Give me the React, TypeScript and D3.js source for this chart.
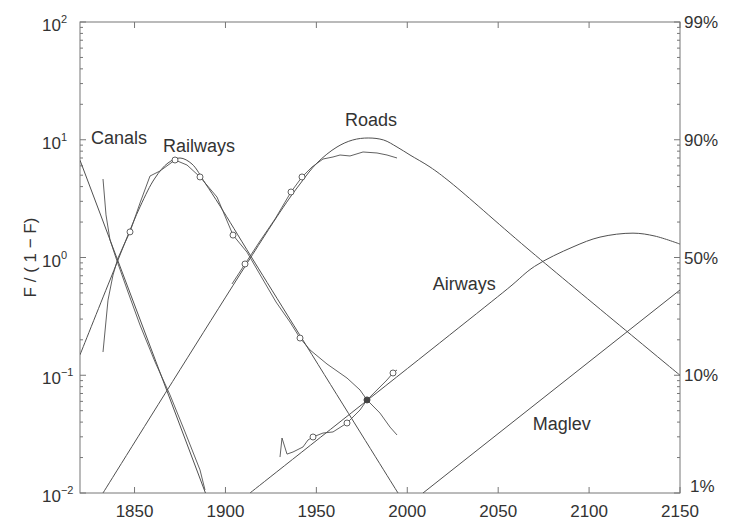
import React from "react";
import * as d3 from "d3";

const W = 729;
const H = 521;
const M = { left: 80, right: 49, top: 22, bottom: 28 };

const xDomain: [number, number] = [1820, 2150];
const yDomain: [number, number] = [0.01, 100];
const xTicks = [1850, 1900, 1950, 2000, 2050, 2100, 2150];
const yDecades = [-2, -1, 0, 1, 2];
const rightLabels = ["1%", "10%", "50%", "90%", "99%"];
const yLabel = "F / ( 1 \u2212 F)";

// fitted substitution curves [year, F/(1-F)]
const canalsFit = [[1820, 6.7], [1889, 0.01]];
const railwaysFit = [
  [1820, 0.149], [1836.5, 0.644], [1853, 2.69], [1861.25, 4.73], [1868.4, 6.35],
  [1875, 7.0], [1881.6, 6.22], [1888.75, 4.3], [1897, 2.74], [1914.6, 0.99], [1994.9, 0.01],
];
const roadsFit = [
  [1832.65, 0.01], [1930, 2.43], [1941, 4.21], [1950.35, 6.35], [1961.35, 8.68],
  [1970, 9.95], [1978.5, 10.35], [1987, 9.95], [1994.35, 8.68], [2001.5, 7.42],
  [2012.5, 5.87], [2023.5, 4.38], [2065.85, 1.2], [2150, 0.1],
];
const airwaysFit = [
  [1913.5, 0.01], [2055, 0.54], [2070, 0.84], [2091.15, 1.23], [2106, 1.49],
  [2124.15, 1.61], [2136.25, 1.52], [2150, 1.3],
];
const maglevFit = [[2008.65, 0.01], [2150, 0.53]];

// observed data [year, F/(1-F)]
const canalsData = [
  [1832.65, 4.64], [1834.3, 2.3], [1836.5, 1.41], [1839.8, 0.99], [1846.4, 0.509],
  [1853, 0.267], [1861.25, 0.13], [1869.5, 0.068], [1877.75, 0.033], [1886, 0.0157],
  [1888.75, 0.0106],
];
const railwaysData = [
  [1832.65, 0.1575], [1835.4, 0.435], [1838.15, 0.71], [1840.9, 0.99], [1843.65, 1.23],
  [1847.5, 1.65], [1853, 2.9], [1858.5, 4.92], [1864, 5.43], [1872.25, 6.73],
  [1878.85, 6.1], [1886, 4.83], [1895.35, 3.26], [1904.15, 1.55], [1911.85, 1.11],
  [1920.1, 0.67], [1927.8, 0.419], [1935.5, 0.283], [1941, 0.207], [1946.5, 0.164],
  [1955.85, 0.1246], [1966.85, 0.0947], [1974, 0.075], [1977.85, 0.0617],
  [1985, 0.0477], [1990.5, 0.0363], [1994.35, 0.0311],
];
const roadsData = [
  [1903.6, 0.596], [1910.75, 0.881], [1919, 1.38], [1927.25, 2.12], [1936.05, 3.6],
  [1942.1, 4.83], [1947.6, 5.87], [1953.65, 6.86], [1959.15, 7.14], [1963, 7.42],
  [1968.5, 7.28], [1975.65, 7.87], [1983.35, 7.72], [1988.85, 7.42], [1994.35, 7.0],
];
const airwaysData = [
  [1930, 0.0202], [1931.1, 0.0293], [1933.85, 0.0214], [1937.15, 0.0223],
  [1942.65, 0.0246], [1945.4, 0.0282], [1948.15, 0.0299], [1953.65, 0.0323],
  [1959.15, 0.033], [1966.85, 0.0393], [1974, 0.0507], [1977.85, 0.0617],
  [1988.85, 0.0912], [1992.15, 0.1045], [1994.35, 0.1109],
];

const railwaysMarkers = [1847.5, 1872.25, 1886, 1904.15, 1941];
const roadsMarkers = [1910.75, 1936.05, 1942.1];
const airwaysMarkers = [1948.15, 1966.85, 1992.15];
const darkMarkers = [1977.85];

const seriesLabels = [
  { text: "Canals", year: 1826, value: 9.2 },
  { text: "Railways", year: 1865.7, value: 7.9 },
  { text: "Roads", year: 1965.75, value: 13.1 },
  { text: "Airways", year: 2014, value: 0.53 },
  { text: "Maglev", year: 2069, value: 0.0343 },
];

const FONT = "'Liberation Sans', Arial, Helvetica, sans-serif";
const LINE = "#505050";
const TEXT = "#333";
const AXIS = "#777";

export default function App() {
  const x = d3.scaleLinear().domain(xDomain).range([M.left, W - M.right]);
  const y = d3.scaleLog().domain(yDomain).range([H - M.bottom, M.top]);
  const x0 = M.left, x1 = W - M.right, y0 = H - M.bottom, y1 = M.top;

  const fitLine = d3
    .line<number[]>()
    .x((d) => x(d[0]))
    .y((d) => y(d[1]))
    .curve(d3.curveCatmullRom.alpha(0.5));
  const dataLine = d3.line<number[]>().x((d) => x(d[0])).y((d) => y(d[1]));

  const fits = [canalsFit, railwaysFit, roadsFit, airwaysFit, maglevFit];
  const datas = [canalsData, railwaysData, roadsData, airwaysData];

  const minor: number[] = [];
  for (let e = -2; e < 2; e++) for (let k = 2; k <= 9; k++) minor.push(k * Math.pow(10, e));

  const markerPts = (data: number[][], years: number[]) =>
    years.map((yr) => data.find((d) => d[0] === yr)).filter(Boolean) as number[][];

  return (
    <svg width={W} height={H} style={{ display: "block", position: "absolute", left: 0, top: 0, background: "#fff" }}>
      <defs>
        <clipPath id="plot">
          <rect x={x0} y={y1} width={x1 - x0} height={y0 - y1} />
        </clipPath>
      </defs>
      <rect width={W} height={H} fill="#fff" />
      <rect x={x0} y={y1} width={x1 - x0} height={y0 - y1} fill="none" stroke={AXIS} strokeWidth={1} />
      {xTicks.map((t) => (
        <g key={"xt" + t}>
          <line x1={x(t)} x2={x(t)} y1={y0} y2={y0 - 6} stroke={AXIS} />
          <line x1={x(t)} x2={x(t)} y1={y1} y2={y1 + 6} stroke={AXIS} />
          <text x={x(t)} y={y0 + 24} textAnchor="middle" fontFamily={FONT} fontSize={17} fill={TEXT}>
            {t}
          </text>
        </g>
      ))}
      {yDecades.map((e) => (
        <g key={"yt" + e}>
          <line x1={x0} x2={x0 + 6} y1={y(Math.pow(10, e))} y2={y(Math.pow(10, e))} stroke={AXIS} />
          <line x1={x1} x2={x1 - 6} y1={y(Math.pow(10, e))} y2={y(Math.pow(10, e))} stroke={AXIS} />
        </g>
      ))}
      {minor.map((v) => (
        <g key={"ym" + v}>
          <line x1={x0} x2={x0 + 3} y1={y(v)} y2={y(v)} stroke={AXIS} />
          <line x1={x1} x2={x1 - 3} y1={y(v)} y2={y(v)} stroke={AXIS} />
        </g>
      ))}
      {yDecades.map((e) => (
        <text key={"yl" + e} x={42} y={y(Math.pow(10, e)) + 9} fontFamily={FONT} fontSize={17} fill={TEXT}>
          10
          <tspan fontSize={11} dy={-8}>
            {e < 0 ? "\u2212" + Math.abs(e) : String(e)}
          </tspan>
        </text>
      ))}
      {yDecades.map((e, i) =>
        i === 0 ? (
          <text key={"yr" + e} x={690} y={y(Math.pow(10, e)) - 1} fontFamily={FONT} fontSize={17} fill={TEXT}>
            {rightLabels[i]}
          </text>
        ) : (
          <text key={"yr" + e} x={684} y={y(Math.pow(10, e)) + 6} fontFamily={FONT} fontSize={17} fill={TEXT}>
            {rightLabels[i]}
          </text>
        )
      )}
      <text
        transform={`translate(36,${(y0 + y1) / 2}) rotate(-90)`}
        textAnchor="middle"
        fontFamily={FONT}
        fontSize={17}
        fill={TEXT}
      >
        {yLabel}
      </text>
      <g clipPath="url(#plot)" fill="none" stroke={LINE} strokeWidth={1}>
        {fits.map((f, i) => (
          <path key={"f" + i} d={fitLine(f as any) || ""} />
        ))}
        {datas.map((f, i) => (
          <path key={"d" + i} d={dataLine(f as any) || ""} strokeWidth={0.9} />
        ))}
        {[
          ...markerPts(railwaysData, railwaysMarkers),
          ...markerPts(roadsData, roadsMarkers),
          ...markerPts(airwaysData, airwaysMarkers),
        ].map((d, i) => (
          <circle key={"m" + i} cx={x(d[0])} cy={y(d[1])} r={3} fill="#fff" stroke={LINE} strokeWidth={0.9} />
        ))}
        {markerPts(airwaysData, darkMarkers).map((d, i) => (
          <circle key={"dm" + i} cx={x(d[0])} cy={y(d[1])} r={3} fill="#444" stroke="#444" />
        ))}
      </g>
      {seriesLabels.map((l) => (
        <text key={l.text} x={x(l.year)} y={y(l.value)} fontFamily={FONT} fontSize={18} fill={TEXT}>
          {l.text}
        </text>
      ))}
    </svg>
  );
}
